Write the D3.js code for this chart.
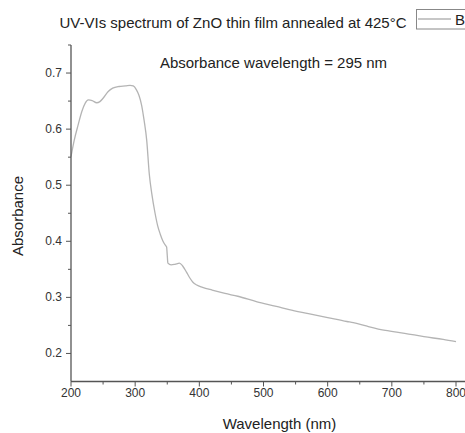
<!DOCTYPE html>
<html><head><meta charset="utf-8">
<script src="https://cdn.jsdelivr.net/npm/d3@7"></script>
<style>body{margin:0;background:#fff}svg{display:block}text{font-family:"Liberation Sans",Arial,sans-serif}</style>
</head><body>
<script>
const wavelength = [200,205,211,217,222,227,233,240,245,250,258,265,275,285,292,297,302,306,310,314,318,322,326,331,335,339,343,347,349,350,351,356,362,369,374,380,385,390,396,405,420,440,460,490,520,540,570,600,630,640,660,690,720,750,780,800];
const absorbance = [0.551,0.58,0.607,0.632,0.646,0.652,0.651,0.647,0.649,0.655,0.667,0.673,0.676,0.677,0.678,0.677,0.670,0.660,0.643,0.615,0.580,0.520,0.484,0.450,0.428,0.413,0.401,0.393,0.390,0.375,0.361,0.358,0.359,0.361,0.356,0.345,0.335,0.327,0.322,0.318,0.313,0.307,0.302,0.292,0.284,0.278,0.271,0.264,0.257,0.255,0.249,0.241,0.236,0.230,0.225,0.221];
const xTicks = [200,300,400,500,600,700,800];
const yTicks = [0.2,0.3,0.4,0.5,0.6,0.7];
const titleText = "UV-VIs spectrum of ZnO thin film annealed at 425°C";
const annotation = "Absorbance wavelength = 295 nm";
const seriesName = "B";

const W=465,H=433;
const svg=d3.select("body").append("svg").attr("width",W).attr("height",H);
const x=d3.scaleLinear().domain([200,800]).range([71,456]);
const y=d3.scaleLinear().domain([0.15,0.75]).range([381.5,45]);
const axisCol="#555", textCol="#333";

// curve
const data=wavelength.map((w,i)=>[w,absorbance[i]]);
svg.append("path").datum(data)
  .attr("d",d3.line().x(d=>x(d[0])).y(d=>y(d[1])).curve(d3.curveMonotoneX))
  .attr("fill","none").attr("stroke","#b4b4b4").attr("stroke-width",1.3);

// x axis
const gx=svg.append("g").attr("transform",`translate(0,${y(0.15)})`);
gx.append("line").attr("x1",x(200)).attr("x2",W).attr("stroke",axisCol).attr("stroke-width",1.3);
const xMinor=d3.range(250,850,100);
gx.selectAll(".mx").data(xMinor).join("line").attr("x1",d=>x(d)).attr("x2",d=>x(d)).attr("y1",0).attr("y2",3).attr("stroke",axisCol);
gx.selectAll(".Mx").data(xTicks).join("line").attr("x1",d=>x(d)).attr("x2",d=>x(d)).attr("y1",0).attr("y2",5).attr("stroke",axisCol);
gx.selectAll(".lx").data(xTicks).join("text").attr("x",d=>x(d)).attr("y",15.5).attr("text-anchor","middle")
  .attr("font-size",12).attr("fill",textCol).text(d=>d);

// y axis
const gy=svg.append("g").attr("transform",`translate(${x(200)},0)`);
gy.append("line").attr("y1",y(0.15)).attr("y2",y(0.75)).attr("stroke",axisCol).attr("stroke-width",1.3);
const yMinor=[0.25,0.35,0.45,0.55,0.65,0.75];
gy.selectAll(".my").data(yMinor).join("line").attr("y1",d=>y(d)).attr("y2",d=>y(d)).attr("x1",0).attr("x2",-3).attr("stroke",axisCol);
gy.selectAll(".My").data(yTicks).join("line").attr("y1",d=>y(d)).attr("y2",d=>y(d)).attr("x1",0).attr("x2",-5).attr("stroke",axisCol);
gy.selectAll(".ly").data(yTicks).join("text").attr("x",-9).attr("y",d=>y(d)+4).attr("text-anchor","end")
  .attr("font-size",12).attr("fill",textCol).text(d=>d.toFixed(1));

// labels
svg.append("text").attr("x",279.5).attr("y",429).attr("text-anchor","middle").attr("font-size",15).attr("fill","#222").text("Wavelength (nm)");
svg.append("text").attr("transform","translate(23,216) rotate(-90)").attr("text-anchor","middle").attr("font-size",15).attr("fill","#222").text("Absorbance");
svg.append("text").attr("x",233).attr("y",28).attr("text-anchor","middle").attr("font-size",15).attr("fill","#222").text(titleText);
svg.append("text").attr("x",273.5).attr("y",68).attr("text-anchor","middle").attr("font-size",15).attr("fill","#222").text(annotation);

// legend
svg.append("rect").attr("x",416.5).attr("y",9.5).attr("width",60).attr("height",19.5).attr("fill","none").attr("stroke","#888").attr("stroke-width",1);
svg.append("line").attr("x1",418).attr("x2",451).attr("y1",19).attr("y2",19).attr("stroke","#b4b4b4").attr("stroke-width",1.3);
svg.append("text").attr("x",455).attr("y",25).attr("font-size",15).attr("fill","#222").text(seriesName);
</script>
</body></html>
